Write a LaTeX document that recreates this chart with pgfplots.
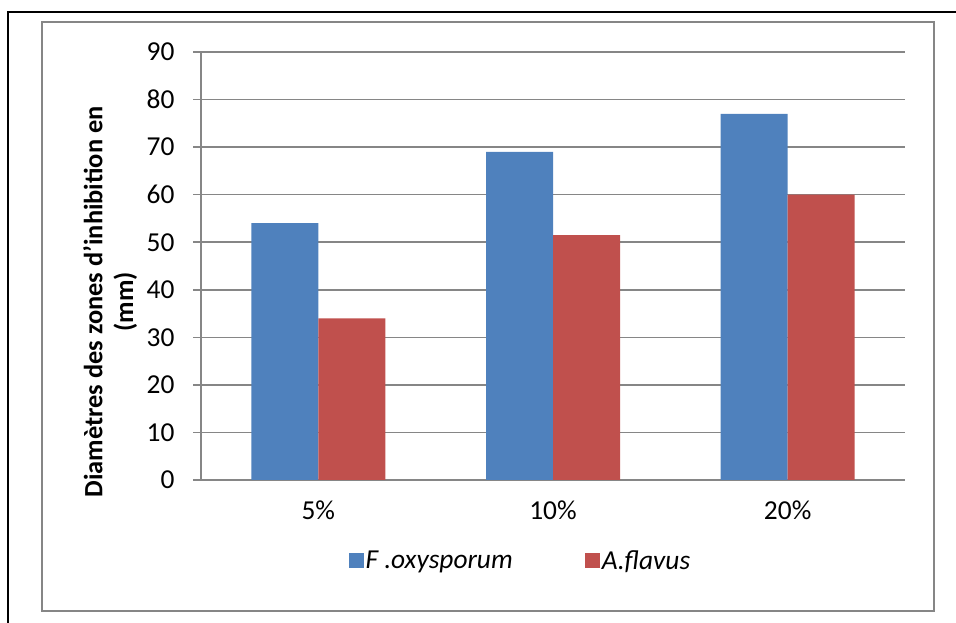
\documentclass[border=0pt]{standalone}
\usepackage{pgfplots}
\pgfplotsset{compat=1.18}
\usepackage{fontspec}
\setmainfont{Carlito}
\definecolor{barblue}{HTML}{4F81BD}
\definecolor{barred}{HTML}{C0504D}
\definecolor{gridgray}{HTML}{868686}
\begin{document}
\begin{tikzpicture}
\path[use as bounding box] (0,0) rectangle (956bp,623bp);
\draw[black,line width=1.2bp] (8bp,0) -- (8bp,611bp) -- (956bp,611bp);
\draw[gridgray,line width=1.5bp] (42bp,12bp) rectangle (934bp,601bp);
\begin{axis}[
  at={(201bp,143bp)}, anchor=south west,
  scale only axis, width=704bp, height=428bp,
  ybar=0pt, bar width=67bp,
  xmin=-0.5, xmax=2.5, ymin=0, ymax=90,
  xtick={0,1,2}, xticklabels={5\%,10\%,20\%},
  x tick style={draw=none},
  ytick={0,10,...,90},
  ymajorgrids, grid style={gridgray,line width=1.5bp},
  axis x line*=bottom, axis y line*=left,
  axis line style={gridgray,line width=1.5bp},
  y tick style={gridgray,line width=1.5bp},
  tick align=outside, major tick length=8bp,
  /pgf/number format/assume math mode=true,
  tick label style={font=\fontsize{27.5}{33}\selectfont, text=black},
  yticklabel style={xshift=-15bp},
  xticklabel style={yshift=-9bp},
  ylabel={Diamètres des zones d’inhibition en\\(mm)},
  every axis y label/.style={at={(axis description cs:-0.129,0.416)},rotate=90,anchor=center,
    align=center,font=\bfseries\fontsize{26.5}{31}\selectfont},
  legend columns=2,
  legend style={at={(axis description cs:0.205,-0.188)},anchor=west,draw=none,
    font=\itshape\fontsize{27.5}{33}\selectfont,
    /tikz/every even column/.append style={column sep=70bp}},
  legend image code/.code={\fill[#1,draw=none] (0bp,-7.5bp) rectangle (15bp,7.5bp);},
]
\addplot[fill=barblue,draw=none] coordinates {(0,54) (1,69) (2,77)};
\addplot[fill=barred,draw=none] coordinates {(0,34) (1,51.5) (2,60)};
\legend{F .oxysporum, A.flavus}
\end{axis}
\end{tikzpicture}
\end{document}
